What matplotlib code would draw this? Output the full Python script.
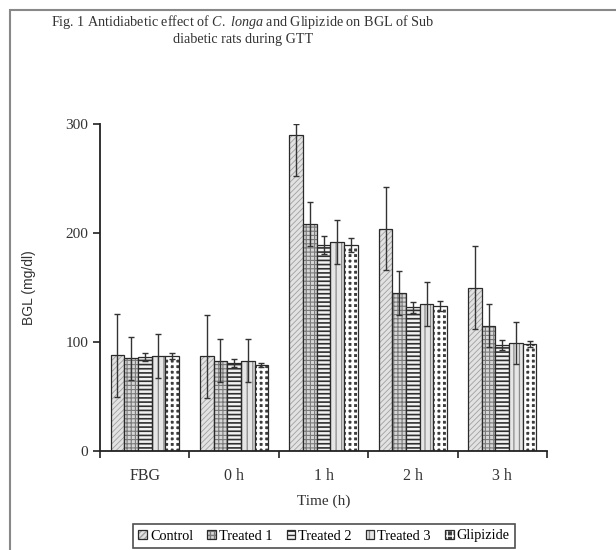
import numpy as np
import matplotlib.pyplot as plt
from matplotlib.patches import Rectangle

# Dados
categorias = ['FBG', '0 h', '1 h', '2 h', '3 h']
series = ['Control', 'Treated 1', 'Treated 2', 'Treated 3', 'Glipizide']

control = [88, 87, 290, 204, 150]
treated1 = [85, 83, 208, 145, 115]
treated2 = [86, 81, 189, 132, 97]
treated3 = [87, 83, 192, 135, 99]
glipizide = [87, 79, 189, 133, 98]

control_err = [38, 38, 38, 38, 38]
treated1_err = [20, 20, 20, 20, 20]
treated2_err = [3.5, 3.5, 8.5, 5, 4.5]
treated3_err = [20, 20, 20, 20, 19]
glipizide_err = [3, 2, 6.5, 5, 3]

valores = [control, treated1, treated2, treated3, glipizide]
erros = [control_err, treated1_err, treated2_err, treated3_err, glipizide_err]

# Estilo de cada série: (preenchimento, hachura, cor da hachura, espessura da hachura)
estilos = [
    ('#e2e2e2', '//////', '#a0a0a0', 0.6),
    ('#d6d6d6', '++++', '#7a7a7a', 0.8),
    ('#f2f2f2', '----', '#303030', 1.2),
    ('#e6e6e6', '|||', '#8a8a8a', 0.9),
    ('#3c3c3c', '+++', '#ffffff', 1.9),
]

plt.rcParams['font.family'] = 'Liberation Serif'
plt.rcParams['mathtext.fontset'] = 'custom'
plt.rcParams['mathtext.rm'] = 'Liberation Serif'
plt.rcParams['mathtext.it'] = 'Liberation Serif:italic'

fig = plt.figure(figsize=(6.16, 5.5), dpi=100)
ax = fig.add_axes([100 / 616, 1 - 451 / 550, 447 / 616, 327 / 550])

ymax = 300
x = np.arange(len(categorias))
largura = 0.153
cor_borda = '#2a2a2a'

handles = []
for i, (nome, vals, errs, (fc, hatch, hc, hlw)) in enumerate(zip(series, valores, erros, estilos)):
    vals = np.array(vals, dtype=float)
    errs = np.array(errs, dtype=float)
    pos = x + (i - 2) * largura
    # barra preenchida com hachura (a cor da hachura segue a cor da borda)
    with plt.rc_context({'hatch.linewidth': hlw}):
        b1 = ax.bar(pos, vals, width=largura, color=fc, edgecolor=hc, hatch=hatch,
                    linewidth=0)
    # contorno escuro por cima
    b2 = ax.bar(pos, vals, width=largura, fill=False, edgecolor=cor_borda, linewidth=0.9)
    # barras de erro cortadas no limite do eixo, como no original
    err_sup = np.minimum(errs, ymax - vals)
    ax.errorbar(pos, vals, yerr=[errs, err_sup], fmt='none', ecolor='#333333',
                elinewidth=1.0, capsize=2.5, capthick=1.0)
    handles.append((b1.patches[0], b2.patches[0]))

ax.set_xlim(-0.5, len(categorias) - 0.5)
ax.set_ylim(0, ymax)
ax.set_yticks([0, 100, 200, 300])
ax.set_xticks(x)
ax.set_xticklabels(categorias, fontsize=11.5, color='#333333')
ax.set_xticks(np.arange(-0.5, len(categorias), 1), minor=True)
ax.tick_params(axis='x', which='major', length=0, pad=12)
ax.tick_params(axis='x', which='minor', length=5, width=1.2, direction='out', color='#222222')
ax.tick_params(axis='y', length=5, width=1.2, direction='out', color='#222222', labelsize=11,
               labelcolor='#333333')
for lado in ['top', 'right']:
    ax.spines[lado].set_visible(False)
for lado in ['left', 'bottom']:
    ax.spines[lado].set_linewidth(1.3)
    ax.spines[lado].set_color('#222222')

ax.set_xlabel('Time (h)', fontsize=11, labelpad=8, color='#333333')
ax.set_ylabel('BGL (mg/dl)', fontsize=10, family='Liberation Sans', labelpad=21, color='#333333')

fig.text(243 / 616, 1 - 22 / 550,
         r'Fig. 1 Antidiabetic effect of $C.\ longa$ and Glipizide on BGL of Sub',
         ha='center', va='center', fontsize=10.2, color='#333333')
fig.text(243 / 616, 1 - 40 / 550, 'diabetic rats during GTT',
         ha='center', va='center', fontsize=10.2, color='#333333')

leg = fig.legend(handles=handles, labels=series, loc='center',
                 bbox_to_anchor=(324 / 616, 1 - 536 / 550),
                 ncol=5, fontsize=10.3, frameon=True, fancybox=False, edgecolor='#222222',
                 handlelength=0.6, handleheight=0.6, handletextpad=0.2, columnspacing=1.0,
                 borderpad=0.35)
leg.get_frame().set_linewidth(1.2)

# moldura cinza externa
fig.patches.append(Rectangle((10 / 616, -0.1), 1.2, 1.1 - 10 / 550, transform=fig.transFigure,
                             fill=False, edgecolor='#888888', linewidth=1.5))

fig.savefig('out.png', dpi=100)
